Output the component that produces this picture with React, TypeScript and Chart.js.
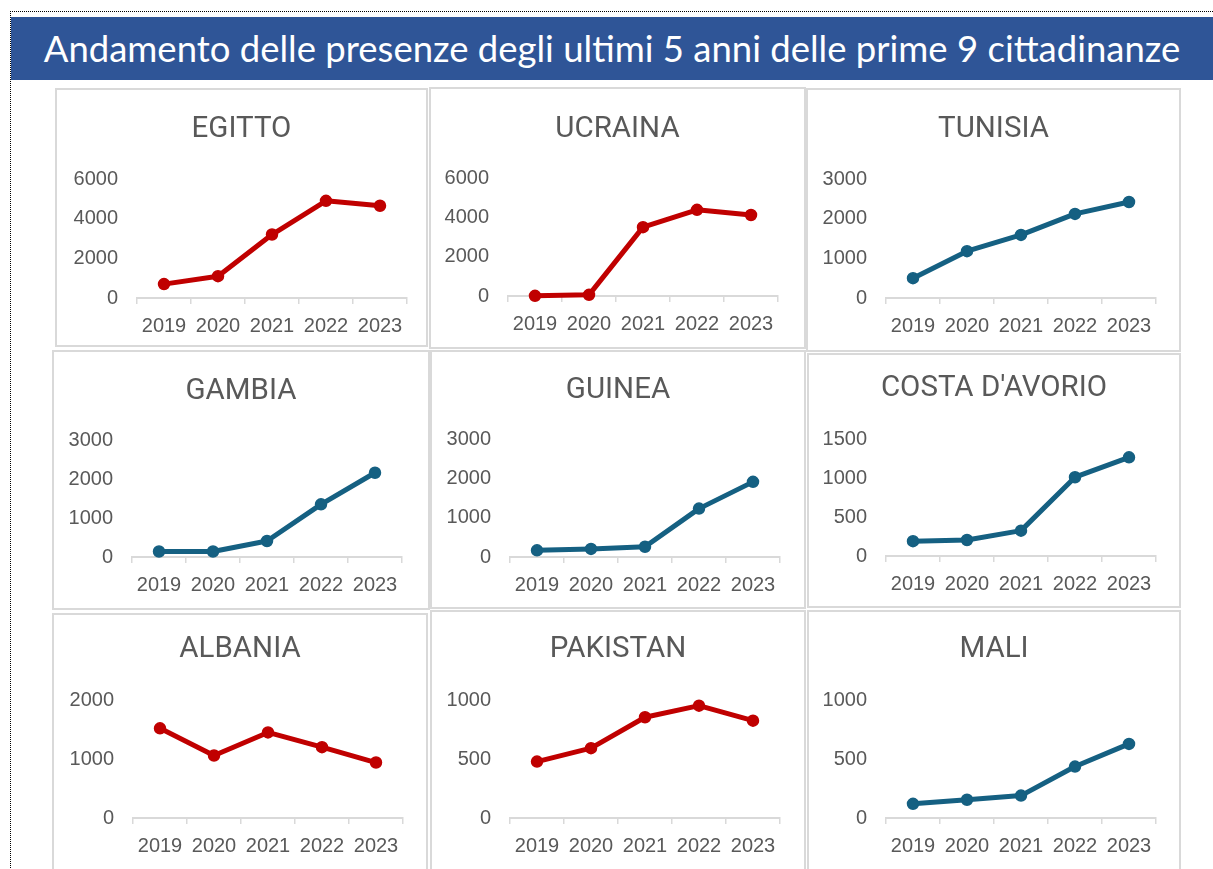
import React, { useEffect, useRef } from "react";
import { Chart, registerables } from "chart.js";
Chart.register(...registerables);

// ---------- data ----------
const MAIN_TITLE = "Andamento delle presenze degli ultimi 5 anni delle prime 9 cittadinanze";
const YEARS = ["2019", "2020", "2021", "2022", "2023"];
const COUNTRIES = ["EGITTO", "UCRAINA", "TUNISIA", "GAMBIA", "GUINEA", "COSTA D'AVORIO", "ALBANIA", "PAKISTAN", "MALI"];
const EGITTO = [700, 1100, 3200, 4900, 4650];
const UCRAINA = [10, 60, 3500, 4380, 4120];
const TUNISIA = [500, 1180, 1590, 2120, 2420];
const GAMBIA = [140, 140, 410, 1350, 2160];
const GUINEA = [170, 205, 260, 1230, 1910];
const COSTA_AVORIO = [190, 205, 325, 1010, 1265];
const ALBANIA = [1520, 1060, 1450, 1200, 940];
const PAKISTAN = [478, 592, 854, 952, 825];
const MALI = [120, 155, 190, 436, 628];
const Y_MAX = [6000, 6000, 3000, 3000, 3000, 1500, 2000, 1000, 1000];
const Y_STEP = [2000, 2000, 1000, 1000, 1000, 500, 1000, 500, 500];
const SERIES = [EGITTO, UCRAINA, TUNISIA, GAMBIA, GUINEA, COSTA_AVORIO, ALBANIA, PAKISTAN, MALI];

// ---------- styles / layout ----------
const RED = "#C00000";
const BLUE = "#156082";
const LINE_COLORS = [RED, RED, BLUE, BLUE, BLUE, BLUE, RED, RED, BLUE];
const TEXT_GRAY = "#595959";
const AXIS_GRAY = "#d9d9d9";

// panel box [x0,y0,x1,y1], plot area [left, top, right, bottom], title center y
const LAYOUT = [
  { box: [55, 88, 428, 347], plot: [137, 179, 407, 298], titleY: 130 },
  { box: [429, 87, 806, 349], plot: [508, 178, 778, 296], titleY: 130 },
  { box: [806, 88, 1181, 352], plot: [886, 179, 1156, 298], titleY: 130 },
  { box: [52, 350, 430, 610], plot: [132, 440, 402, 557], titleY: 392 },
  { box: [430, 350, 806, 609], plot: [510, 439, 780, 557], titleY: 391 },
  { box: [807, 353, 1181, 608], plot: [886, 439, 1156, 556], titleY: 389 },
  { box: [52, 613, 428, 885], plot: [133, 700, 403, 818], titleY: 650 },
  { box: [430, 610, 806, 885], plot: [510, 700, 780, 818], titleY: 650 },
  { box: [807, 610, 1181, 885], plot: [886, 700, 1156, 818], titleY: 650 },
];

function Panel({ idx }: { idx: number }) {
  const ref = useRef<HTMLCanvasElement>(null);
  const L = LAYOUT[idx];
  const [bx0, by0, bx1, by1] = L.box;
  const w = bx1 - bx0;
  const h = by1 - by0;

  useEffect(() => {
    if (!ref.current) return;
    const [px0, py0, px1, py1] = L.plot;
    const plotLeft = px0 - bx0;
    const plotTop = py0 - by0;
    const plotRight = px1 - bx0;
    const plotBottom = py1 - by0;
    const titleSize = 29.5;
    const lh = 1.2;
    const tY = L.titleY - by0;
    const pt = tY - (titleSize * lh) / 2;
    const pb = plotTop - pt - titleSize * lh;
    const color = LINE_COLORS[idx];
    const tickFont = { family: "'Liberation Sans', Arial, sans-serif", size: 20 };

    const chart = new Chart(ref.current, {
      type: "line",
      data: {
        labels: YEARS,
        datasets: [
          {
            data: SERIES[idx],
            borderColor: color,
            backgroundColor: color,
            borderWidth: 5,
            pointRadius: 5.5,
            pointBorderWidth: 1.5,
            pointBackgroundColor: color,
            pointBorderColor: color,
            tension: 0,
            clip: false as any,
            borderCapStyle: "round",
            borderJoinStyle: "round",
          },
        ],
      },
      options: {
        animation: false,
        responsive: false,
        devicePixelRatio: 1,
        layout: { padding: 0 },
        plugins: {
          legend: { display: false },
          tooltip: { enabled: false },
          title: {
            display: true,
            text: COUNTRIES[idx],
            color: TEXT_GRAY,
            font: { family: "Roboto, sans-serif", size: titleSize, weight: "normal", lineHeight: lh },
            padding: { top: pt, bottom: pb },
          },
        },
        scales: {
          x: {
            offset: true,
            grid: {
              display: true,
              offset: true,
              drawOnChartArea: false,
              drawTicks: true,
              tickLength: 6,
              color: AXIS_GRAY,
              lineWidth: 1.5,
            },
            border: { display: true, color: AXIS_GRAY, width: 2 },
            ticks: { color: TEXT_GRAY, font: tickFont, padding: 10, maxRotation: 0, autoSkip: false },
            afterFit: (s: any) => {
              s.height = h - plotBottom;
            },
          },
          y: {
            min: 0,
            max: Y_MAX[idx],
            grid: { display: false, drawTicks: false },
            border: { display: false },
            ticks: {
              stepSize: Y_STEP[idx],
              color: TEXT_GRAY,
              font: tickFont,
              padding: 19,
              callback: (v: any) => String(v),
            },
            afterFit: (s: any) => {
              s.width = plotLeft;
            },
          },
          // invisible spacer on the right so the title stays centred on the whole panel
          yRight: {
            position: "right",
            display: true,
            grid: { display: false, drawTicks: false },
            border: { display: false },
            ticks: { display: false },
            afterFit: (s: any) => {
              s.width = w - plotRight;
            },
          },
        },
      },
    } as any);
    return () => chart.destroy();
  }, []);

  return (
    <canvas
      ref={ref}
      width={w}
      height={h}
      style={{ position: "absolute", left: bx0, top: by0, width: w, height: h }}
    />
  );
}

export default function App() {
  return (
    <div
      style={{
        position: "absolute",
        left: 0,
        top: 0,
        width: 1213,
        height: 869,
        overflow: "hidden",
        background: "#ffffff",
      }}
    >
      {/* dotted frame */}
      <div
        style={{
          position: "absolute",
          left: 10,
          top: 11,
          width: 1250,
          height: 900,
          borderTop: "1px dotted #000",
          borderLeft: "1px dotted #000",
        }}
      />
      {/* title bar */}
      <div
        style={{
          position: "absolute",
          left: 11,
          top: 17,
          width: 1202,
          height: 63,
          background: "#2F5597",
          color: "#ffffff",
          fontFamily: "Lato, 'Open Sans', sans-serif",
          fontSize: 36.5,
          lineHeight: "63px",
          textAlign: "center",
          whiteSpace: "nowrap",
        }}
      >
        {MAIN_TITLE}
      </div>
      {/* panel frames */}
      {LAYOUT.map((L, i) => (
        <div
          key={"f" + i}
          style={{
            position: "absolute",
            left: L.box[0],
            top: L.box[1],
            width: L.box[2] - L.box[0],
            height: L.box[3] - L.box[1],
            boxSizing: "border-box",
            border: `2px solid ${AXIS_GRAY}`,
            background: "#ffffff",
          }}
        />
      ))}
      {LAYOUT.map((_, i) => (
        <Panel key={"p" + i} idx={i} />
      ))}
    </div>
  );
}
